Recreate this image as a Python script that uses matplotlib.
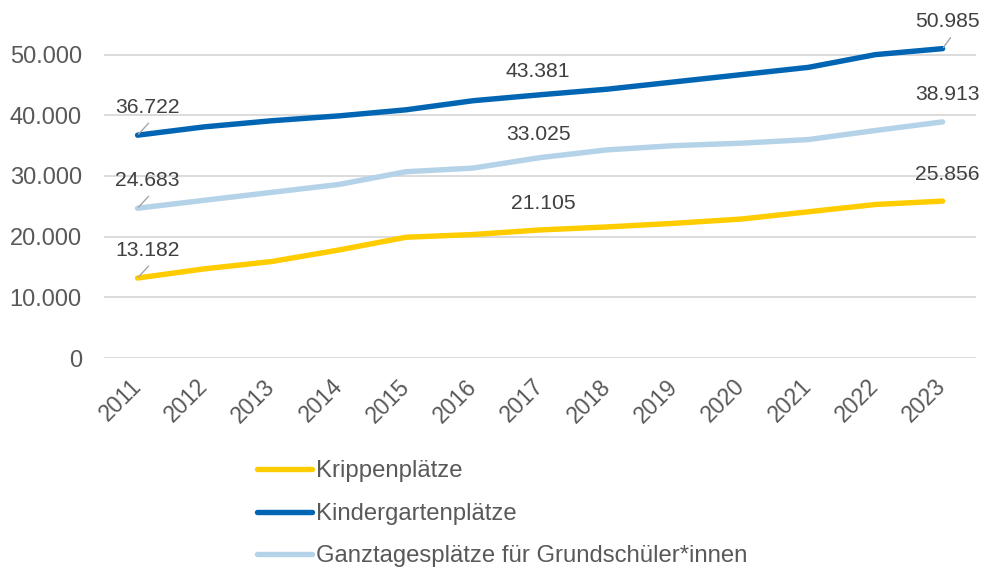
import matplotlib.pyplot as plt
from matplotlib.ticker import FuncFormatter

plt.rcParams['font.family'] = ['Liberation Sans', 'DejaVu Sans']

years = ['2011', '2012', '2013', '2014', '2015', '2016', '2017',
         '2018', '2019', '2020', '2021', '2022', '2023']
krippe = [13182, 14700, 15900, 17800, 19900, 20350, 21105,
          21600, 22200, 22900, 24100, 25300, 25856]
kita = [36722, 38100, 39100, 39900, 40900, 42400, 43381,
        44300, 45500, 46700, 47900, 50000, 50985]
ganztag = [24683, 26000, 27300, 28600, 30700, 31300, 33025,
           34300, 35000, 35400, 36000, 37500, 38913]

names = ['Krippenplätze', 'Kindergartenplätze',
         'Ganztagesplätze für Grundschüler*innen']
colors = ['#FFCC00', '#0066B3', '#B4D3E8']
series = [krippe, kita, ganztag]

txt = '#404040'

fig = plt.figure(figsize=(9.87, 5.67), dpi=100)
ax = fig.add_axes([0.1054, 0.3686, 0.8836, 0.6314])

x = list(range(len(years)))
for vals, name, c in zip(series, names, colors):
    ax.plot(x, vals, color=c, lw=3.9, solid_capstyle='round', label=name, zorder=3)

# data labels at 2011, 2017, 2023 (offsets in pixels)
offsets = {0: (10, 28), 6: (-2, 23), 12: (5, 27)}
for k, vals in enumerate(series):
    for i, off in offsets.items():
        if i == 6 and k == 0:
            off = (3, 26)
        s = f'{vals[i]:,}'.replace(',', '.')
        ax.annotate(s, (x[i], vals[i]), xytext=off, textcoords='offset pixels',
                    ha='center', va='center', fontsize=15.2, color=txt,
                    zorder=4, annotation_clip=False)
        if i == 0 or (i == 12 and k == 1):
            lead = (11, 12) if i == 0 else (8, 11)
            ax.annotate('', (x[i], vals[i]), xytext=lead, textcoords='offset pixels',
                        arrowprops=dict(arrowstyle='-', color='#A6A6A6', lw=1,
                                        shrinkA=0, shrinkB=1),
                        zorder=4, annotation_clip=False)

ax.set_xlim(-0.5, 12.5)
ax.set_ylim(0, 59000)
ax.set_yticks([0, 10000, 20000, 30000, 40000, 50000])
ax.yaxis.set_major_formatter(FuncFormatter(lambda v, p: f'{int(v):,}'.replace(',', '.')))
ax.set_xticks(x)
ax.set_xticklabels(years, rotation=45, ha='right', va='center', rotation_mode='anchor')
ax.tick_params(axis='y', length=0, pad=16, labelsize=17, labelcolor='#595959')
ax.tick_params(axis='x', length=0, pad=18, labelsize=16.5, labelcolor='#595959')
ax.grid(axis='y', color='#D9D9D9', lw=1.3)
ax.set_axisbelow(True)
for sp in ax.spines.values():
    sp.set_visible(False)

leg = fig.legend(loc='upper left', bbox_to_anchor=(0.2604, 0.188), frameon=False,
                 fontsize=17.2, handlelength=2.3, handletextpad=0.17,
                 labelspacing=0.86, borderaxespad=0, borderpad=0)
for t in leg.get_texts():
    t.set_color('#595959')

fig.savefig('out.png', dpi=100)
